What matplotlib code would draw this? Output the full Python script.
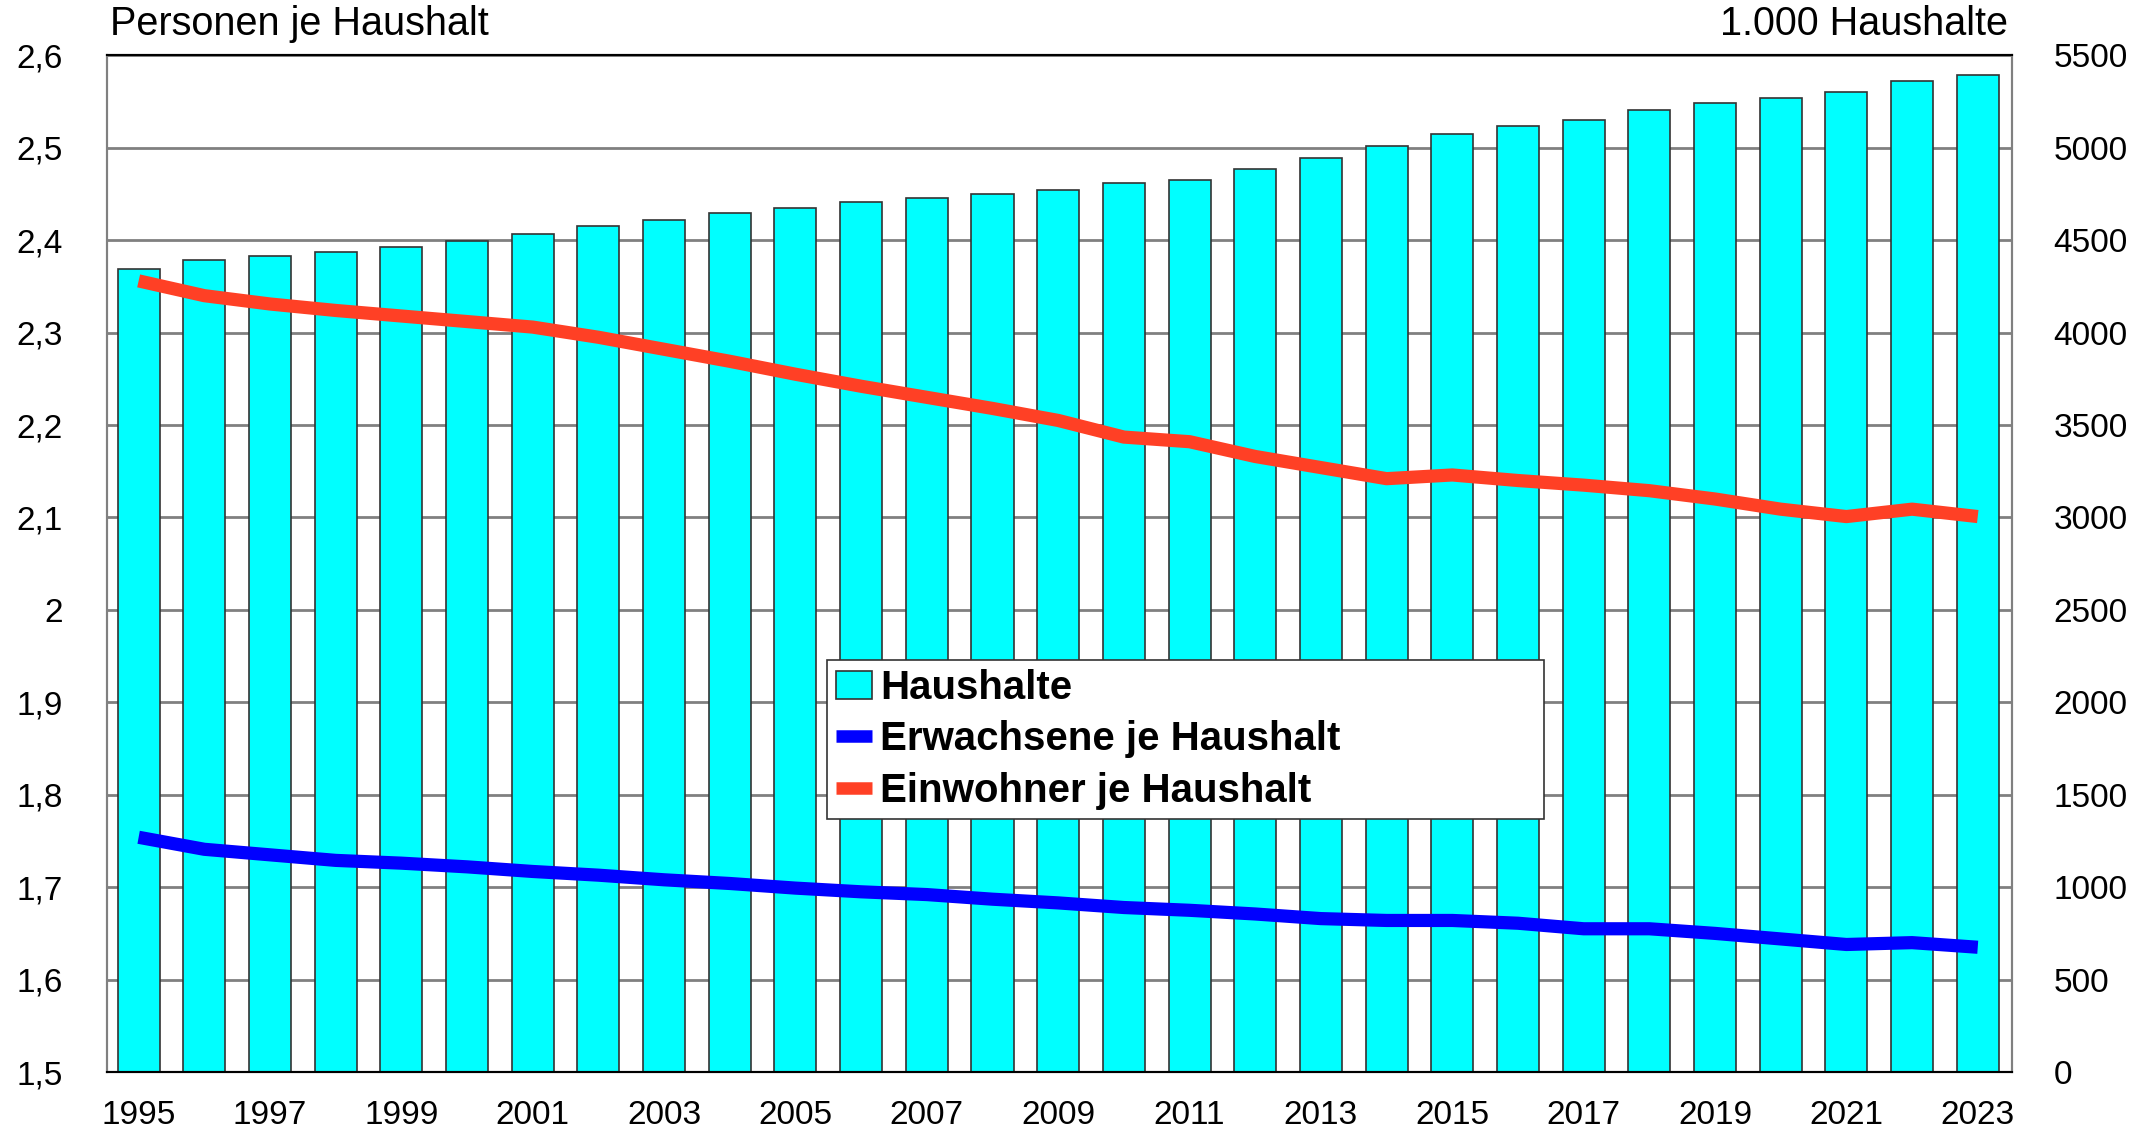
import matplotlib.pyplot as plt
from matplotlib.ticker import FuncFormatter, MultipleLocator

plt.rcParams['font.family'] = ['Liberation Sans', 'DejaVu Sans']

years = list(range(1995, 2024))
year_labels = [str(y) if y % 2 == 1 else "" for y in years]

# 1.000 Haushalte (right axis)
haushalte = [4342, 4392, 4414, 4436, 4461, 4496, 4533, 4576, 4612, 4645,
             4675, 4705, 4727, 4750, 4772, 4809, 4824, 4883, 4943, 5010,
             5073, 5119, 5148, 5205, 5240, 5270, 5302, 5360, 5396]

# Personen je Haushalt (left axis)
einwohner = [2.356, 2.340, 2.331, 2.324, 2.318, 2.312, 2.306, 2.295, 2.282, 2.269,
             2.255, 2.242, 2.230, 2.218, 2.205, 2.187, 2.182, 2.166, 2.154, 2.142,
             2.146, 2.140, 2.135, 2.129, 2.120, 2.109, 2.101, 2.109, 2.101]

erwachsene = [1.754, 1.741, 1.735, 1.729, 1.726, 1.722, 1.717, 1.713, 1.708, 1.704,
              1.699, 1.695, 1.692, 1.687, 1.683, 1.678, 1.675, 1.671, 1.666, 1.664,
              1.664, 1.661, 1.655, 1.655, 1.650, 1.644, 1.638, 1.640, 1.635]

x = list(range(len(years)))

fig = plt.figure(figsize=(21.55, 11.3), dpi=100)
ax = fig.add_axes([0.0497, 0.0513, 0.8839, 0.8997])
ax2 = ax.twinx()

# bars on the right-hand scale, drawn below the lines
bars = ax2.bar(x, haushalte, width=0.64, color='#00FFFF', edgecolor='#333333',
               linewidth=1.2, label='Haushalte', zorder=2)
ax2.set_ylim(0, 5500)
ax2.yaxis.set_major_locator(MultipleLocator(500))
ax2.grid(axis='y', color='#808080', linewidth=2, zorder=0)
ax2.set_axisbelow(True)

ax.set_zorder(ax2.get_zorder() + 1)
ax.patch.set_visible(False)

l1, = ax.plot(x, erwachsene, color='#0000FF', linewidth=9.5, solid_capstyle='butt',
              label='Erwachsene je Haushalt')
l2, = ax.plot(x, einwohner, color='#FF4025', linewidth=9.5, solid_capstyle='butt',
              label='Einwohner je Haushalt')

ax.set_xlim(-0.48, len(years) - 0.48)
ax.set_ylim(1.5, 2.6)
ax.yaxis.set_major_locator(MultipleLocator(0.1))


def de_fmt(v, pos):
    s = f"{v:.1f}".replace('.', ',')
    return s[:-2] if s.endswith(',0') else s


ax.yaxis.set_major_formatter(FuncFormatter(de_fmt))
ax.set_xticks(x)
ax.set_xticklabels(year_labels)

ax.tick_params(axis='y', length=0, pad=32, labelsize=24)
ax.tick_params(axis='x', length=0, pad=20, labelsize=24)
ax2.tick_params(axis='y', length=0, pad=30, labelsize=24)

for a in (ax, ax2):
    a.spines['left'].set_color('#808080')
    a.spines['right'].set_color('#808080')
    a.spines['top'].set_color('black')
    a.spines['bottom'].set_color('black')
    for s in a.spines.values():
        s.set_linewidth(1.5)

fig.text(0.051, 0.979, 'Personen je Haushalt', fontsize=28.5, ha='left', va='center')
fig.text(0.932, 0.979, '1.000 Haushalte', fontsize=28.5, ha='right', va='center')

leg = ax.legend([bars, l1, l2], ['Haushalte', 'Erwachsene je Haushalt', 'Einwohner je Haushalt'],
                loc='upper left', bbox_to_anchor=(0.378, 0.405, 0.3766, 0.0),
                mode='expand', frameon=True,
                fancybox=False, edgecolor='#333333', framealpha=1,
                prop={'weight': 'bold', 'size': 29}, handlelength=0.9,
                handletextpad=0.2, borderpad=0.22, labelspacing=0.33,
                borderaxespad=0)
leg.get_frame().set_linewidth(1.2)
for h in leg.legend_handles[1:]:
    h.set_linewidth(9)

fig.savefig('out.png', dpi=100)
